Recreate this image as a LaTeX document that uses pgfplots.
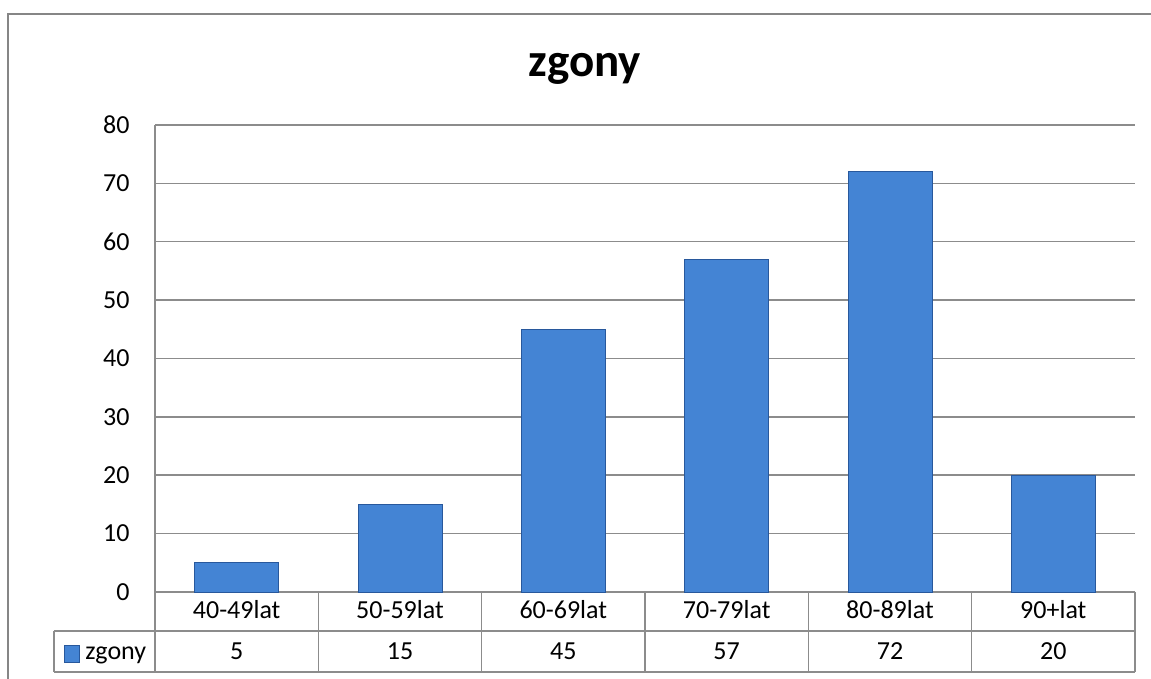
\documentclass[border=0pt]{standalone}
\usepackage{pgfplots}
\pgfplotsset{compat=1.18}
\usepackage{fontspec}
\setmainfont{Carlito}
\definecolor{barblue}{RGB}{68,132,212}
\definecolor{bardark}{RGB}{40,88,156}
\definecolor{gridgray}{RGB}{140,140,140}
\definecolor{framegray}{RGB}{134,134,134}
\begin{document}
\fontsize{13}{15.6}\selectfont
\begin{tikzpicture}
\path[use as bounding box] (-77.5pt,-43.5pt) rectangle (498pt,296pt);
\begin{axis}[
    at={(0pt,0pt)}, anchor=south west,
    scale only axis, width=490pt, height=233.5pt,
    xmin=-0.5, xmax=5.5, ymin=0, ymax=80,
    ytick={0,10,...,80}, xtick=\empty,
    ymajorgrids, grid style={gridgray, line width=0.75pt},
    axis line style={draw=none},
    major tick length=0pt,
    yticklabel style={inner sep=0pt, anchor=east, xshift=-12.5pt},
    /pgf/number format/assume math mode=true,
    ticklabel style={font=\fontsize{13}{15.6}\selectfont},
    ybar, bar width=42pt,
    clip=false,
]
\addplot[fill=barblue, draw=bardark, line width=0.4pt]
    coordinates {(0,5)(1,15)(2,45)(3,57)(4,72)(5,20)};
\end{axis}

% title
\node[anchor=base, font=\fontsize{23.5}{28}\selectfont\bfseries] at (215pt,257.5pt) {zgony};

% chart frame
\draw[framegray, line width=1pt] (-73.5pt,-50pt) -- (-73.5pt,289pt) -- (520pt,289pt);

% data table
\draw[gridgray, line width=0.75pt] (0pt,233.5pt) -- (0pt,-40pt);
\draw[gridgray, line width=0.75pt] (-50.5pt,-19.5pt) -- (490pt,-19.5pt);
\draw[gridgray, line width=0.75pt] (-50.5pt,-40pt) -- (490pt,-40pt);
\draw[gridgray, line width=0.75pt] (-50.5pt,-19.5pt) -- (-50.5pt,-40pt);
\foreach \k in {1,...,6}
    \draw[gridgray, line width=0.75pt] ({\k*490pt/6},0pt) -- ({\k*490pt/6},-40pt);
\foreach \lab [count=\i from 0] in {40-49lat,50-59lat,60-69lat,70-79lat,80-89lat,90+lat}
    \node[anchor=base] at ({(\i+0.5)*490pt/6},-13.5pt) {\lab};
\foreach \v [count=\i from 0] in {5,15,45,57,72,20}
    \node[anchor=base] at ({(\i+0.5)*490pt/6},-34pt) {\v};

% legend key
\fill[barblue, draw=bardark, line width=0.3pt] (-45.5pt,-35pt) rectangle (-38pt,-26.5pt);
\node[anchor=base west, inner sep=0pt] at (-35pt,-34pt) {zgony};
\end{tikzpicture}
\end{document}
